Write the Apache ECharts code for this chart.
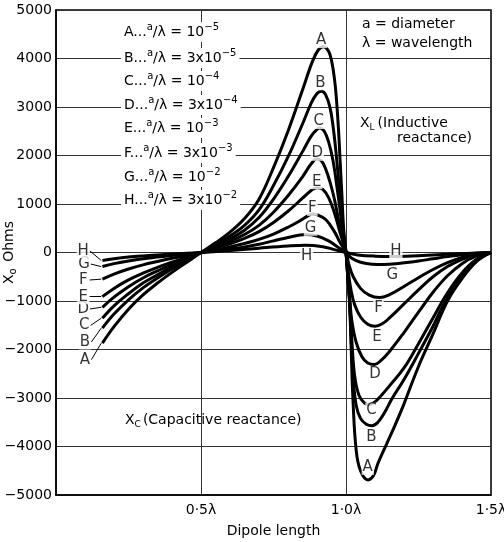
<!DOCTYPE html>
<html>
<head>
<meta charset="utf-8">
<script src="https://cdn.jsdelivr.net/npm/echarts@6/dist/echarts.min.js"></script>
<style>
html, body { margin: 0; padding: 0; background: #fff; }
#chart { width: 504px; height: 542px; }
</style>
</head>
<body>
<div id="chart"></div>
<script>
// dipole reactance curves, [length in wavelengths, Xo in ohms]
var curveA = [[0.16,-1870],[0.2,-1530],[0.25,-1170],[0.3,-875],[0.35,-630],[0.4,-410],[0.45,-205],[0.5,0],[0.55,200],[0.6,420],[0.65,700],[0.7,1100],[0.75,1750],[0.8,2500],[0.85,3350],[0.885,3950],[0.905,4180],[0.922,4244],[0.94,4150],[0.951,3930],[0.96,3590],[0.966,3240],[0.974,2550],[0.98,1860],[0.986,1170],[0.992,480],[1.0,0],[1.006,-500],[1.012,-1000],[1.018,-2000],[1.024,-3030],[1.035,-4070],[1.05,-4500],[1.076,-4690],[1.095,-4600],[1.11,-4350],[1.14,-3950],[1.17,-3550],[1.2,-3120],[1.25,-2350],[1.3,-1680],[1.35,-1000],[1.4,-540],[1.45,-190],[1.5,0]];
var curveB = [[0.16,-1560],[0.2,-1270],[0.25,-975],[0.3,-730],[0.35,-525],[0.4,-340],[0.45,-170],[0.5,0],[0.55,160],[0.6,340],[0.65,560],[0.7,880],[0.75,1380],[0.8,1970],[0.85,2650],[0.88,3080],[0.9,3280],[0.915,3325],[0.93,3250],[0.945,2980],[0.955,2620],[0.965,2100],[0.975,1450],[0.985,800],[0.993,300],[1.0,0],[1.006,-450],[1.012,-950],[1.018,-1800],[1.025,-2600],[1.035,-3150],[1.05,-3420],[1.07,-3540],[1.09,-3570],[1.11,-3500],[1.13,-3330],[1.16,-3000],[1.2,-2620],[1.25,-2080],[1.3,-1520],[1.35,-920],[1.4,-470],[1.45,-160],[1.5,0]];
var curveC = [[0.16,-1355],[0.2,-1100],[0.25,-850],[0.3,-630],[0.35,-460],[0.4,-295],[0.45,-150],[0.5,0],[0.55,130],[0.6,280],[0.65,460],[0.7,720],[0.75,1100],[0.8,1560],[0.85,2080],[0.88,2400],[0.9,2540],[0.91,2567],[0.925,2500],[0.94,2280],[0.955,1900],[0.97,1300],[0.98,850],[0.99,380],[1.0,0],[1.006,-450],[1.012,-950],[1.02,-1800],[1.03,-2550],[1.045,-2950],[1.065,-3110],[1.081,-3138],[1.1,-3080],[1.12,-2960],[1.15,-2750],[1.2,-2380],[1.25,-1880],[1.3,-1350],[1.35,-830],[1.4,-420],[1.45,-140],[1.5,0]];
var curveD = [[0.16,-1130],[0.2,-920],[0.25,-705],[0.3,-525],[0.35,-380],[0.4,-245],[0.45,-125],[0.5,0],[0.55,110],[0.6,230],[0.65,370],[0.7,560],[0.75,830],[0.8,1170],[0.85,1560],[0.88,1830],[0.9,1932],[0.915,1890],[0.93,1720],[0.945,1450],[0.96,1100],[0.975,650],[0.99,230],[1.0,0],[1.005,-400],[1.012,-900],[1.02,-1400],[1.035,-1850],[1.055,-2150],[1.075,-2280],[1.098,-2310],[1.12,-2230],[1.15,-2040],[1.2,-1650],[1.25,-1230],[1.3,-820],[1.35,-480],[1.4,-230],[1.45,-70],[1.5,0]];
var curveE = [[0.16,-910],[0.2,-740],[0.25,-565],[0.3,-425],[0.35,-305],[0.4,-200],[0.45,-100],[0.5,0],[0.55,90],[0.6,180],[0.65,290],[0.7,430],[0.75,620],[0.8,850],[0.85,1120],[0.88,1280],[0.9,1337],[0.92,1300],[0.94,1130],[0.96,820],[0.98,400],[1.0,0],[1.008,-400],[1.018,-800],[1.03,-1080],[1.05,-1330],[1.075,-1480],[1.1,-1520],[1.125,-1470],[1.15,-1350],[1.2,-1060],[1.25,-770],[1.3,-500],[1.35,-290],[1.4,-140],[1.45,-40],[1.5,0]];
var curveF = [[0.16,-550],[0.2,-445],[0.25,-340],[0.3,-255],[0.35,-185],[0.4,-120],[0.45,-60],[0.5,0],[0.55,55],[0.6,115],[0.65,185],[0.7,270],[0.75,380],[0.8,520],[0.84,650],[0.87,760],[0.885,793],[0.9,780],[0.93,680],[0.96,430],[0.98,200],[1.0,0],[1.01,-250],[1.025,-500],[1.05,-740],[1.08,-880],[1.115,-930],[1.15,-870],[1.2,-700],[1.25,-520],[1.3,-350],[1.35,-210],[1.4,-100],[1.45,-30],[1.5,0]];
var curveG = [[0.16,-290],[0.2,-230],[0.25,-175],[0.3,-130],[0.35,-95],[0.4,-60],[0.45,-30],[0.5,0],[0.55,30],[0.6,70],[0.65,115],[0.7,170],[0.75,240],[0.8,310],[0.86,370],[0.9,340],[0.94,240],[0.97,120],[1.0,0],[1.02,-120],[1.05,-200],[1.09,-240],[1.13,-245],[1.18,-225],[1.25,-175],[1.3,-130],[1.35,-85],[1.4,-45],[1.45,-15],[1.5,0]];
var curveH = [[0.16,-165],[0.2,-130],[0.25,-95],[0.3,-70],[0.35,-50],[0.4,-33],[0.45,-17],[0.5,0],[0.6,40],[0.7,90],[0.8,135],[0.86,150],[0.92,120],[0.96,60],[1.0,0],[1.04,-50],[1.1,-75],[1.16,-80],[1.25,-65],[1.35,-38],[1.45,-10],[1.5,0]];

var letters = ['A', 'B', 'C', 'D', 'E', 'F', 'G', 'H'];
var ratioBase = ['10', '3x10', '10', '3x10', '10', '3x10', '10', '3x10'];
var ratioExp = ['−5', '−5', '−4', '−4', '−3', '−3', '−2', '−2'];
// letter positions (data units) next to peaks, troughs and left ends
var peakLabelPos = [[0.914,4370],[0.912,3500],[0.906,2700],[0.901,2045],[0.899,1460],[0.884,910],[0.878,500],[0.864,-70]];
var troughLabelPos = [[1.075,-4430],[1.088,-3800],[1.088,-3250],[1.1,-2505],[1.107,-1736],[1.112,-1150],[1.16,-464],[1.172,37]];
var sideLabelPos = [[0.1,-2210],[0.1,-1845],[0.097,-1505],[0.094,-1165],[0.094,-912],[0.094,-567],[0.097,-237],[0.094,37]];
var yTicks = { min: -5000, max: 5000, step: 1000 };
var xTicks = { min: 0, max: 1.5, step: 0.5 };

var FONT = 'DejaVu Sans';
var curves = [curveA, curveB, curveC, curveD, curveE, curveF, curveG, curveH];

var chart = echarts.init(document.getElementById('chart'));

var series = curves.map(function (c, i) {
    return {
        name: letters[i],
        type: 'line',
        data: c,
        showSymbol: false,
        smooth: 0.4,
        lineStyle: { color: '#000', width: 3 },
        z: 3,
        silent: true,
        markLine: {
            silent: true,
            symbol: 'none',
            label: { show: false },
            lineStyle: { color: '#000', width: 1, type: 'solid' },
            data: [[
                { coord: [sideLabelPos[i][0] + 0.022, sideLabelPos[i][1]] },
                { coord: [c[0][0] - 0.004, c[0][1]] }
            ]]
        }
    };
});

var notes = [];
letters.forEach(function (l, i) {
    notes.push([peakLabelPos[i][0], peakLabelPos[i][1], l]);
    notes.push([troughLabelPos[i][0], troughLabelPos[i][1], l]);
    notes.push([sideLabelPos[i][0], sideLabelPos[i][1], l]);
});
series.push({
    type: 'scatter',
    data: notes,
    symbolSize: 0,
    silent: true,
    z: 10,
    label: {
        show: true,
        position: 'inside',
        formatter: function (p) { return p.data[2]; },
        fontFamily: FONT,
        fontSize: 15,
        color: '#000',
        backgroundColor: '#fff',
        padding: [0, 1]
    }
});

var graphics = letters.map(function (l, i) {
    return {
        type: 'text',
        x: 121,
        y: [32, 58, 81, 105, 128, 153, 177, 200][i],
        z: 20,
        style: {
            text: '{n|' + l + '...}{s|a}{n|/λ = ' + ratioBase[i] + '}{s|' + ratioExp[i] + '}',
            verticalAlign: 'middle',
            backgroundColor: '#fff',
            padding: [0, 3],
            rich: {
                n: { fontFamily: FONT, fontSize: 14, lineHeight: 20, verticalAlign: 'middle', fill: '#000' },
                s: { fontFamily: FONT, fontSize: 10, lineHeight: 20, verticalAlign: 'top', fill: '#000' }
            }
        }
    };
});
graphics.push(
    { type: 'text', x: 362, y: 24, style: { text: 'a = diameter', font: '14px ' + FONT, fill: '#000', verticalAlign: 'middle' } },
    { type: 'text', x: 362, y: 43, style: { text: 'λ = wavelength', font: '14px ' + FONT, fill: '#000', verticalAlign: 'middle' } },
    { type: 'text', x: 360, y: 123, style: { text: '{n|X}{b|L}{n|(Inductive}', verticalAlign: 'middle',
        rich: { n: { fontFamily: FONT, fontSize: 14, lineHeight: 18, verticalAlign: 'middle' }, b: { fontFamily: FONT, fontSize: 9, lineHeight: 18, verticalAlign: 'bottom', padding: [0, 3, 0, 0] } } } },
    { type: 'text', x: 397, y: 138, style: { text: 'reactance)', font: '14px ' + FONT, fill: '#000', verticalAlign: 'middle' } },
    { type: 'text', x: 125, y: 420, style: { text: '{n|X}{b|C}{n|(Capacitive reactance)}', verticalAlign: 'middle',
        rich: { n: { fontFamily: FONT, fontSize: 14, lineHeight: 18, verticalAlign: 'middle' }, b: { fontFamily: FONT, fontSize: 9, lineHeight: 18, verticalAlign: 'bottom', padding: [0, 2, 0, 0] } } } }
);

var option = {
    animation: false,
    backgroundColor: '#fff',
    grid: {
        left: 56, right: 13, top: 10, bottom: 47,
        outerBoundsMode: 'none', containLabel: false,
        show: true, borderColor: '#000', borderWidth: 1.5
    },
    xAxis: {
        type: 'value',
        min: xTicks.min, max: xTicks.max, interval: xTicks.step,
        name: 'Dipole length',
        nameLocation: 'middle',
        nameGap: 29,
        nameMoveOverlap: false,
        nameTextStyle: { fontFamily: FONT, fontSize: 14, color: '#000' },
        axisLine: { onZero: false, lineStyle: { color: '#000', width: 1.5 } },
        axisTick: { show: false },
        axisLabel: {
            margin: 8, fontFamily: FONT, fontSize: 14, color: '#000',
            formatter: function (v) { return v === 0 ? '' : v.toFixed(1).replace('.', '·') + 'λ'; }
        },
        splitLine: { show: true, lineStyle: { color: '#333', width: 1 } }
    },
    yAxis: {
        type: 'value',
        min: yTicks.min, max: yTicks.max, interval: yTicks.step,
        name: '{n|X}{b|o}{n| Ohms}',
        nameLocation: 'middle',
        nameGap: 38,
        nameMoveOverlap: false,
        nameTextStyle: {
            rich: {
                n: { fontFamily: FONT, fontSize: 14, color: '#000', lineHeight: 18, verticalAlign: 'middle' },
                b: { fontFamily: FONT, fontSize: 10, color: '#000', lineHeight: 18, verticalAlign: 'bottom', padding: [0, 2, 0, 0] }
            }
        },
        axisLine: { onZero: false, lineStyle: { color: '#000', width: 1.5 } },
        axisTick: { show: false },
        axisLabel: {
            margin: 4, fontFamily: FONT, fontSize: 14, color: '#000',
            formatter: function (v) { return String(v).replace('-', '−'); }
        },
        splitLine: { show: true, lineStyle: { color: '#333', width: 1 } }
    },
    graphic: graphics,
    series: series
};

chart.setOption(option);
</script>
</body>
</html>
